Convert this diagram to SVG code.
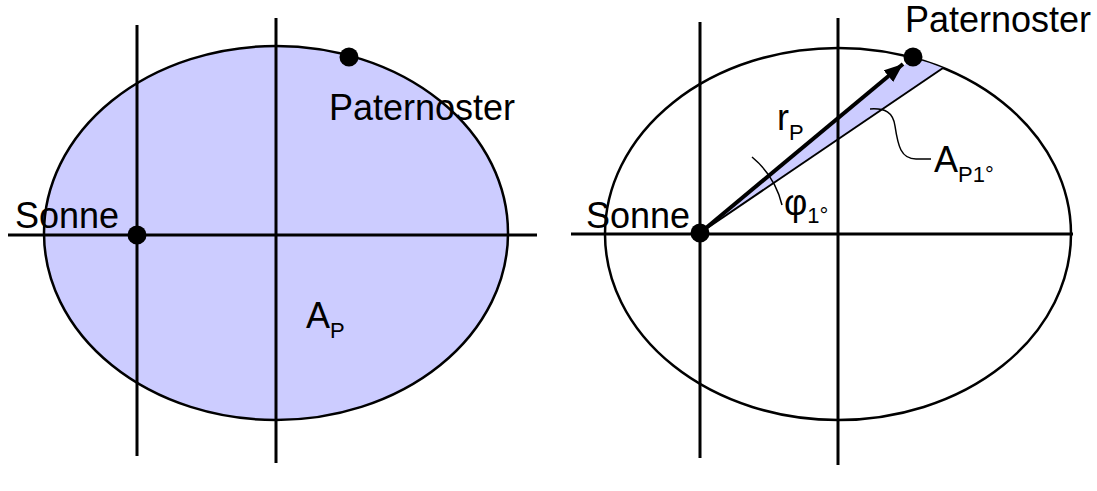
<svg xmlns="http://www.w3.org/2000/svg" width="1097" height="491" viewBox="0 0 1097 491">
<defs>
<style>
.ax{stroke:#000;stroke-width:3;fill:none}
.orb{stroke:#000;stroke-width:2.5}
.t{font-family:"Liberation Sans",Arial,sans-serif;font-size:36px;fill:#000}
.s{font-family:"Liberation Sans",Arial,sans-serif;font-size:22px;fill:#000}
.dot{fill:#000}
</style>
<marker id="ah" markerWidth="19" markerHeight="15" refX="19" refY="7.5" orient="auto" markerUnits="userSpaceOnUse" viewBox="0 0 19 15">
<path d="M0,0 L19,7.5 L0,15 Z" fill="#000"/>
</marker>
</defs>
<g id="left-orbit">
<ellipse class="orb" cx="276" cy="233" rx="232" ry="187" fill="#ccccff"/>
</g>
<g id="left-axes">
<line class="ax" x1="8" y1="235" x2="537" y2="235"/>
<line class="ax" x1="137" y1="25" x2="137" y2="456"/>
<line class="ax" x1="276" y1="18" x2="276" y2="463"/>
</g>
<g id="left-sonne">
<circle class="dot" cx="137" cy="235" r="9.5"/>
<text class="t" x="15" y="228">Sonne</text>
</g>
<g id="left-paternoster">
<circle class="dot" cx="349" cy="57" r="9.5"/>
<text class="t" x="329" y="120">Paternoster</text>
</g>
<g id="left-area">
<text class="t" x="306" y="328">A<tspan class="s" dy="10">P</tspan></text>
</g>
<g id="right-orbit">
<ellipse class="orb" cx="838" cy="234" rx="233" ry="186" fill="none"/>
<path d="M700,233 L913,58 A233,186 0 0 1 943,68 Z" fill="#ccccff" stroke="none"/>
</g>
<g id="right-axes">
<line class="ax" x1="571" y1="234" x2="1073" y2="234"/>
<line class="ax" x1="700" y1="22" x2="700" y2="458"/>
<line class="ax" x1="838" y1="18" x2="838" y2="465"/>
</g>
<g id="connectors">
<line x1="700" y1="233" x2="943" y2="68" stroke="#000" stroke-width="2"/>
<line x1="700" y1="233" x2="903" y2="64" stroke="#000" stroke-width="4" marker-end="url(#ah)"/>
<path d="M752,157 A90,90 0 0 1 782,205" fill="none" stroke="#000" stroke-width="1.5"/>
<path d="M870,109 C885,108 893,112 895,126 C898,146 901,159 916,159 L931,159" fill="none" stroke="#000" stroke-width="1.5"/>
</g>
<g id="right-sonne">
<circle class="dot" cx="700" cy="233" r="9.5"/>
<text class="t" x="586" y="228">Sonne</text>
</g>
<g id="right-paternoster">
<circle class="dot" cx="913" cy="57" r="9.5"/>
<text class="t" x="905" y="32">Paternoster</text>
</g>
<g id="labels">
<text class="t" x="777" y="130">r<tspan class="s" dy="10">P</tspan></text>
<text class="t" x="784" y="215">φ<tspan class="s" dy="8">1°</tspan></text>
<text class="t" x="934" y="172">A<tspan class="s" dy="10">P1°</tspan></text>
</g>
</svg>
